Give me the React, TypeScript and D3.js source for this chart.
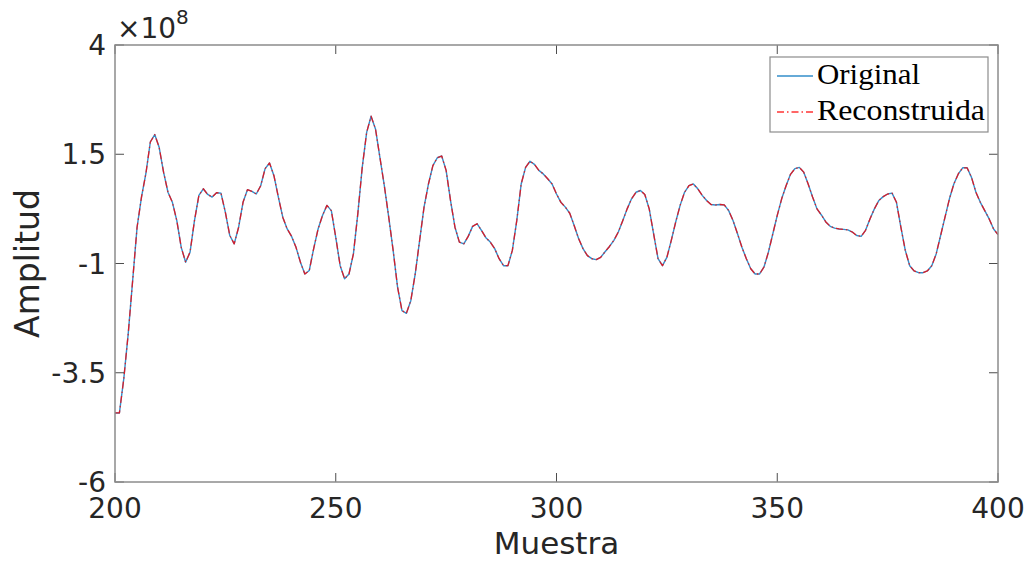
import React from "react";
import * as d3 from "d3";

// Sample index range shown on the x axis
const firstSample = 200;
const lastSample = 400;

// Signal amplitude per sample (units of 1e8), samples 200..400
const original: number[] = [
  -4.42, -4.42, -3.63, -2.6, -1.39, -0.17, 0.52, 1.06, 1.78, 1.95,
  1.66, 1.09, 0.63, 0.4, -0.02, -0.63, -0.97, -0.74, -0.02, 0.56,
  0.71, 0.58, 0.52, 0.62, 0.61, 0.17, -0.36, -0.55, -0.17, 0.4,
  0.69, 0.65, 0.59, 0.78, 1.17, 1.3, 1.01, 0.52, 0.06, -0.21,
  -0.38, -0.63, -0.97, -1.24, -1.16, -0.66, -0.21, 0.1, 0.33, 0.21,
  -0.4, -1.05, -1.35, -1.24, -0.78, 0.14, 1.2, 2.0, 2.37, 2.08,
  1.43, 0.78, 0.06, -0.7, -1.54, -2.08, -2.14, -1.85, -1.24, -0.47,
  0.29, 0.82, 1.24, 1.42, 1.46, 1.13, 0.44, -0.17, -0.51, -0.55,
  -0.38, -0.15, -0.09, -0.24, -0.41, -0.51, -0.66, -0.89, -1.05, -1.05,
  -0.7, -0.02, 0.82, 1.2, 1.34, 1.27, 1.13, 1.05, 0.94, 0.82,
  0.59, 0.4, 0.29, 0.15, -0.13, -0.43, -0.66, -0.82, -0.89, -0.91,
  -0.86, -0.73, -0.61, -0.47, -0.28, -0.02, 0.25, 0.48, 0.63, 0.67,
  0.58, 0.25, -0.32, -0.89, -1.05, -0.86, -0.47, -0.05, 0.33, 0.63,
  0.78, 0.82, 0.71, 0.56, 0.44, 0.35, 0.34, 0.35, 0.34, 0.21,
  -0.02, -0.32, -0.63, -0.89, -1.12, -1.24, -1.24, -1.08, -0.74, -0.32,
  0.1, 0.48, 0.78, 1.04, 1.17, 1.2, 1.09, 0.82, 0.52, 0.25,
  0.11, -0.05, -0.15, -0.19, -0.21, -0.22, -0.23, -0.28, -0.36, -0.38,
  -0.24, 0.02, 0.25, 0.44, 0.53, 0.59, 0.61, 0.4, -0.17, -0.7,
  -1.05, -1.17, -1.21, -1.21, -1.17, -1.05, -0.78, -0.36, 0.06, 0.48,
  0.82, 1.05, 1.19, 1.19, 0.97, 0.63, 0.4, 0.21, 0.02, -0.21,
  -0.34,
];

// The reconstruction follows the original to within the line width
const reconstructed: number[] = original.slice();

const xTicks = [200, 250, 300, 350, 400];
const yTicks = [-6, -3.5, -1, 1.5, 4];
const yTickLabels = ["-6", "-3.5", "-1", "1.5", "4"];

const seriesNames = ["Original", "Reconstruida"];

const W = 1036;
const H = 562;
const plot = { left: 115, right: 998, top: 45, bottom: 482 };

const sansFont = "'DejaVu Sans', sans-serif";
const serifFont = "'Liberation Serif', 'DejaVu Serif', serif";
const boxColor = "#8c8c8c";
const tickColor = "#4d4d4d";
const textColor = "#262626";
const blue = "#0072BD";
const red = "#FF0000";

export default function App() {
  const x = d3.scaleLinear().domain([firstSample, lastSample]).range([plot.left, plot.right]);
  const y = d3.scaleLinear().domain([-6, 4]).range([plot.bottom, plot.top]);

  const line = d3
    .line<number>()
    .x((_, i) => x(firstSample + i))
    .y((d) => y(d));

  const tickLen = 9;

  return (
    <svg
      width={W}
      height={H}
      style={{ position: "absolute", left: 0, top: 0, background: "#fff" }}
    >
      <rect x={0} y={0} width={W} height={H} fill="#fff" />
      <defs>
        <clipPath id="plot-clip">
          <rect
            x={plot.left}
            y={plot.top}
            width={plot.right - plot.left}
            height={plot.bottom - plot.top}
          />
        </clipPath>
      </defs>

      {/* data lines */}
      <g clipPath="url(#plot-clip)" strokeLinejoin="round">
        <path d={line(original) ?? ""} fill="none" stroke={blue} strokeOpacity={0.8} strokeWidth={1.4} />
        <path
          d={line(reconstructed) ?? ""}
          fill="none"
          stroke={red}
          strokeOpacity={0.8}
          strokeWidth={1.3}
          strokeDasharray="7 3 1.5 3"
        />
      </g>

      {/* ticks on all four sides, pointing inward */}
      <g stroke={tickColor} strokeWidth={1}>
        {xTicks.map((t) => (
          <g key={"xt" + t}>
            <line x1={x(t)} x2={x(t)} y1={plot.bottom} y2={plot.bottom - tickLen} />
            <line x1={x(t)} x2={x(t)} y1={plot.top} y2={plot.top + tickLen} />
          </g>
        ))}
        {yTicks.map((t) => (
          <g key={"yt" + t}>
            <line x1={plot.left} x2={plot.left + tickLen} y1={y(t)} y2={y(t)} />
            <line x1={plot.right} x2={plot.right - tickLen} y1={y(t)} y2={y(t)} />
          </g>
        ))}
      </g>

      {/* axes box */}
      <rect
        x={plot.left}
        y={plot.top}
        width={plot.right - plot.left}
        height={plot.bottom - plot.top}
        fill="none"
        stroke={boxColor}
        strokeWidth={1.5}
      />

      {/* tick labels */}
      <g fill={textColor} fontFamily={sansFont} fontSize={28}>
        {xTicks.map((t) => (
          <text key={"xl" + t} x={x(t)} y={plot.bottom + 36} textAnchor="middle">
            {t}
          </text>
        ))}
        {yTicks.map((t, i) => (
          <text key={"yl" + t} x={plot.left - 9} y={y(t) + 10} textAnchor="end">
            {yTickLabels[i]}
          </text>
        ))}
      </g>

      {/* exponent */}
      <text x={117} y={38} fill={textColor} fontFamily={sansFont} fontSize={28}>
        ×10
        <tspan fontSize={20} dy={-14}>
          8
        </tspan>
      </text>

      {/* axis titles */}
      <text
        x={(plot.left + plot.right) / 2}
        y={554}
        textAnchor="middle"
        fill={textColor}
        fontFamily={sansFont}
        fontSize={31}
      >
        Muestra
      </text>
      <text
        transform={`translate(39, ${(plot.top + plot.bottom) / 2}) rotate(-90)`}
        textAnchor="middle"
        fill={textColor}
        fontFamily={sansFont}
        fontSize={33}
      >
        Amplitud
      </text>

      {/* legend */}
      <g>
        <rect x={770} y={57} width={218} height={75} fill="#fff" stroke={boxColor} strokeWidth={1.2} />
        <line x1={777} x2={813} y1={76} y2={76} stroke={blue} strokeOpacity={0.8} strokeWidth={1.3} />
        <line
          x1={777}
          x2={813}
          y1={112}
          y2={112}
          stroke={red}
          strokeOpacity={0.8}
          strokeWidth={1.3}
          strokeDasharray="7 3 1.5 3"
        />
        <text
          x={817}
          y={84}
          fill="#000"
          fontFamily={serifFont}
          fontSize={30}
          textLength={103}
          lengthAdjust="spacingAndGlyphs"
        >
          {seriesNames[0]}
        </text>
        <text
          x={817}
          y={120}
          fill="#000"
          fontFamily={serifFont}
          fontSize={30}
          textLength={168}
          lengthAdjust="spacingAndGlyphs"
        >
          {seriesNames[1]}
        </text>
      </g>
    </svg>
  );
}
